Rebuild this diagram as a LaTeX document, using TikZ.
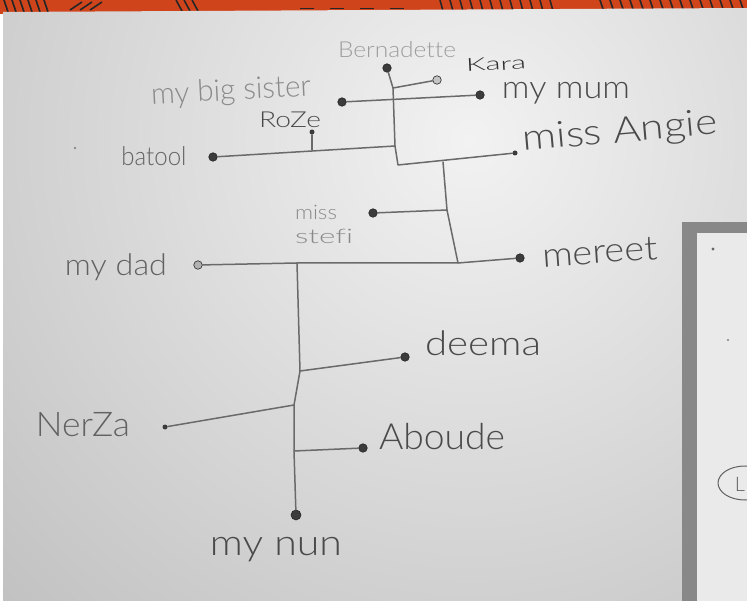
\documentclass[tikz,border=0pt]{standalone}
\usepackage{fontspec}
\usepackage{graphicx}
\setmainfont{Lato Light}[Ligatures=NoCommon]
\usetikzlibrary{shapes.geometric}
\definecolor{paperA}{HTML}{F2F2F2}
\definecolor{paperB}{HTML}{BDBDBD}
\definecolor{fabric}{HTML}{D0441C}
\definecolor{gapc}{HTML}{888888}
\definecolor{paper2}{HTML}{EAEAEA}
\definecolor{pencil}{HTML}{6A6A6A}
\definecolor{dotc}{HTML}{3C3C3C}
\definecolor{tdark}{HTML}{2E2E2E}
\definecolor{tmid}{HTML}{4A4A4A}
\definecolor{tgrey}{HTML}{626262}
\definecolor{tlight}{HTML}{8A8A8A}
\definecolor{tfaint}{HTML}{9E9E9E}
\newcommand{\myfs}[1]{\fontsize{#1}{#1}\selectfont}
\newcommand{\hw}[2]{\resizebox{#1}{\height}{#2}}
\begin{document}
\begin{tikzpicture}[x=1pt,y=-1pt,
  dot/.style={circle,fill=dotc,draw=black!85,line width=0.6pt,minimum size=8.5pt,inner sep=0pt},
  small dot/.style={circle,fill=dotc,minimum size=5pt,inner sep=0pt},
  wire/.style={draw=pencil,line width=1.5pt,line join=round,line cap=round},
  stripe/.style={draw=black!85,line width=1.6pt},
  lbl/.style={inner sep=0pt,anchor=center}]
\useasboundingbox (0,0) rectangle (747,601);
% ---------- photo background ----------
\fill[fabric] (0,0) rectangle (747,14);
\foreach \sx in {4,12,20,28,36,44} {\draw[stripe] (\sx,0) -- (\sx+4,12);}
\foreach \sx in {70,80,90} {\draw[stripe] (\sx,10) -- (\sx+12,2);}
\foreach \sx in {176,184,192} {\draw[stripe] (\sx,0) -- (\sx+6,11);}
\foreach \sx in {300,330,360,390} {\draw[stripe,line width=1pt] (\sx,9) -- (\sx+14,9);}
\foreach \sx in {440,450,460,470,480,490,500,510,520,530,540,550} {\draw[stripe] (\sx,0) -- (\sx+3,11);}
\foreach \sx in {600,610,620,630,640,650,660,670,680,690,700,710,720,730,740} {\draw[stripe] (\sx,0) -- (\sx+4,12);}
\begin{scope}
  \clip (3,12) -- (747,8) -- (747,222) -- (682,222) -- (682,601) -- (3,601) -- cycle;
  \shade[inner color=paperA,outer color=paperB] (470,140) circle (720);
\end{scope}
\fill[gapc] (682,222) rectangle (747,601);
\fill[paper2] (697,233) rectangle (747,601);
\fill[black!60] (713,249) circle (1.6);
\fill[black!50] (728,340) circle (1.1);
\fill[black!55] (75,148) circle (1.1);
\draw[tgrey,line width=1pt] (745,483) ellipse (27 and 17);
\node[lbl,text=tgrey,font=\myfs{20}] (lcirc) at (740,484) {L};
% ---------- dots ----------
\node[dot] (bern) at (387,68) {};
\node[dot,fill=white!70!dotc] (kara) at (437,80) {};
\node[dot] (sis) at (342,102) {};
\node[dot] (mum) at (480,95) {};
\node[small dot] (roze) at (312,132) {};
\node[dot] (batool) at (213,157) {};
\node[small dot] (angie) at (515,153) {};
\node[dot] (stefi) at (373,213) {};
\node[dot,fill=white!60!dotc] (dad) at (198,265) {};
\node[dot] (mereet) at (520,258) {};
\node[dot] (deema) at (405,357) {};
\node[small dot] (nerza) at (165,427) {};
\node[dot] (aboude) at (363,448) {};
\node[dot,minimum size=10pt] (nun) at (296,515) {};
% ---------- junctions ----------
\coordinate (j1) at (393,88);
\coordinate (j2) at (395,146);
\coordinate (j3) at (398,165);
\coordinate (j4) at (443,162);
\coordinate (j5) at (447,210);
\coordinate (j6) at (458,263);
\coordinate (j7) at (297,263);
\coordinate (j8) at (300,371);
\coordinate (j9) at (294,405);
\coordinate (j10) at (294,451);
\coordinate (rb) at (312,150);
% ---------- connectors ----------
\draw[wire] (bern) -- (j1) -- (j2) -- (j3) -- (angie);
\draw[wire] (j1) -- (kara);
\draw[wire] (sis) -- (mum);
\draw[wire] (batool) -- (j2);
\draw[wire] (roze) -- (rb);
\draw[wire] (j4) -- (j5) -- (j6);
\draw[wire] (stefi) -- (j5);
\draw[wire] (dad) -- (j7) -- (j6) -- (mereet);
\draw[wire] (j7) -- (j8) -- (j9) -- (j10) -- (nun);
\draw[wire] (j8) -- (deema);
\draw[wire] (nerza) -- (j9);
\draw[wire] (j10) -- (aboude);
% ---------- labels ----------
\node[lbl,text=tfaint,font=\myfs{22}] (tbern) at (397,50) {\hw{118pt}{Bernadette}};
\node[lbl,text=tdark,font=\myfs{18},rotate=3] (tkara) at (496,64) {\hw{60pt}{Kara}};
\node[lbl,text=tlight,font=\myfs{30},rotate=3] (tsis) at (231,92) {\hw{160pt}{my big sister}};
\node[lbl,text=tmid,font=\myfs{32}] (tmum) at (566,93) {\hw{128pt}{my mum}};
\node[lbl,text=tmid,font=\myfs{22}] (troze) at (290,120) {\hw{62pt}{RoZe}};
\node[lbl,text=tgrey,font=\myfs{26}] (tbatool) at (154,156) {\hw{65pt}{batool}};
\node[lbl,text=tmid,font=\myfs{36},rotate=5] (tangie) at (620,133) {\hw{195pt}{miss Angie}};
\node[lbl,text=tlight,font=\myfs{20}] (tmiss) at (316,212) {\hw{42pt}{miss}};
\node[lbl,text=tlight,font=\myfs{20}] (tstefi) at (324,236) {\hw{58pt}{stefi}};
\node[lbl,text=tgrey,font=\myfs{30}] (tdad) at (116,267) {\hw{102pt}{my dad}};
\node[lbl,text=tmid,font=\myfs{34},rotate=4] (tmereet) at (600,252) {\hw{115pt}{mereet}};
\node[lbl,text=tmid,font=\myfs{34}] (tdeema) at (483,343) {\hw{116pt}{deema}};
\node[lbl,text=tgrey,font=\myfs{34}] (tnerza) at (83,425) {\hw{94pt}{NerZa}};
\node[lbl,text=tmid,font=\myfs{36}] (taboude) at (442,437) {\hw{126pt}{Aboude}};
\node[lbl,text=tmid,font=\myfs{36}] (tnun) at (276,550) {\hw{132pt}{my nun}};
\end{tikzpicture}
\end{document}
